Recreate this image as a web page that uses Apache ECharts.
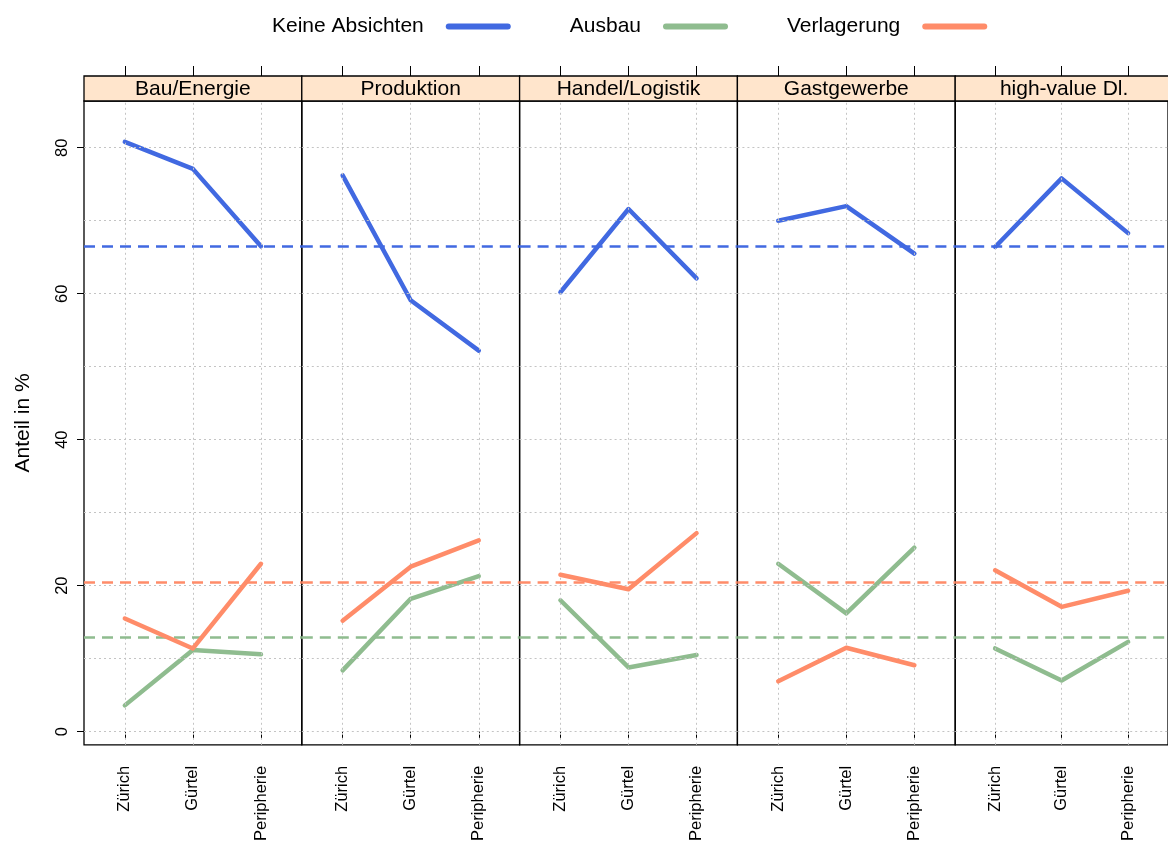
<!DOCTYPE html>
<html>
<head>
<meta charset="utf-8">
<script src="https://cdn.jsdelivr.net/npm/echarts@6/dist/echarts.min.js"></script>
<style>
  html, body { margin: 0; padding: 0; background: #fff; }
  #chart { width: 1168px; height: 844px; }
</style>
</head>
<body>
<div id="chart"></div>
<script>
// Regions on the x axis of every panel
const regions = ['Zürich', 'Gürtel', 'Peripherie'];
// One panel per sector
const sectors = ['Bau/Energie', 'Produktion', 'Handel/Logistik', 'Gastgewerbe', 'high-value Dl.'];
const seriesNames = ['Keine Absichten', 'Ausbau', 'Verlagerung'];

// Share in % per sector (rows) and region (Zürich, Gürtel, Peripherie)
const keineAbsichten = [
  [80.8, 77.1, 66.5],
  [76.2, 59.1, 52.2],
  [60.2, 71.6, 62.1],
  [70.0, 72.0, 65.5],
  [66.4, 75.8, 68.3]
];
const ausbau = [
  [3.6, 11.2, 10.6],
  [8.4, 18.2, 21.3],
  [18.0, 8.8, 10.5],
  [23.0, 16.2, 25.2],
  [11.4, 7.0, 12.3]
];
const verlagerung = [
  [15.5, 11.4, 23.0],
  [15.2, 22.6, 26.2],
  [21.5, 19.5, 27.2],
  [6.9, 11.5, 9.1],
  [22.1, 17.1, 19.3]
];
// Overall shares, drawn as dashed reference lines (same order as seriesNames)
const overallMeans = [66.5, 13.0, 20.4];

const yTickValues = [0, 20, 40, 60, 80];
const yGridValues = [0, 10, 20, 30, 40, 50, 60, 70, 80];

const colors = ['#4169E1', '#8FBC8F', '#FF8C69'];
const seriesValues = [keineAbsichten, ausbau, verlagerung];
const FONT = '"Liberation Sans", Arial, Helvetica, sans-serif';

const layout = { left: 84, top: 101, width: 217.8, height: 644.5, strip: 25 };
const xPositions = regions.map((_, k) => k + 1);

const grids = [], xAxes = [], yAxes = [], series = [], graphics = [];

sectors.forEach((sector, i) => {
  const left = layout.left + i * layout.width;
  grids.push({
    left: left, top: layout.top, width: layout.width, height: layout.height,
    show: true, borderColor: '#000', borderWidth: 1.3, backgroundColor: 'transparent'
  });

  // bottom axis with region labels
  xAxes.push({
    type: 'value', gridIndex: i, min: 0.4, max: 3.6, position: 'bottom',
    axisLine: { show: false }, splitLine: { show: false },
    axisTick: { show: true, length: 7, customValues: xPositions, lineStyle: { color: '#000', width: 1 } },
    axisLabel: {
      show: true, customValues: xPositions, rotate: 90, margin: 21,
      formatter: v => regions[Math.round(v) - 1],
      fontSize: 16.5, color: '#000', fontFamily: FONT
    }
  });
  // top ticks above the strip
  xAxes.push({
    type: 'value', gridIndex: i, min: 0.4, max: 3.6, position: 'top', offset: layout.strip,
    axisLine: { show: false }, splitLine: { show: false },
    axisTick: { show: true, length: 10, customValues: xPositions, lineStyle: { color: '#000', width: 1 } },
    axisLabel: { show: false }
  });

  yAxes.push({
    type: 'value', gridIndex: i, min: -1.8, max: 86.4, position: 'left',
    axisLine: { show: false }, splitLine: { show: false },
    axisTick: { show: i === 0, length: 7, customValues: yTickValues, lineStyle: { color: '#000', width: 1 } },
    axisLabel: {
      show: i === 0, customValues: yTickValues, rotate: 90, margin: 13,
      fontSize: 16.5, color: '#000', fontFamily: FONT
    },
    name: i === 0 ? 'Anteil in %' : '',
    nameLocation: 'middle', nameRotate: 90, nameGap: 50,
    nameTextStyle: { fontSize: 21, color: '#000', fontFamily: FONT }
  });

  // background: dotted grid and dashed overall reference lines
  const dotted = { color: '#c4c4c4', type: [2, 3], width: 1 };
  series.push({
    type: 'line', xAxisIndex: 2 * i, yAxisIndex: i, data: [], z: 1, silent: true,
    markLine: {
      silent: true, symbol: 'none', animation: false, label: { show: false },
      data: []
        .concat(yGridValues.map(v => ({ yAxis: v, lineStyle: dotted })))
        .concat(xPositions.map(v => ({ xAxis: v, lineStyle: dotted })))
        .concat(overallMeans.map((m, k) => ({
          yAxis: m, lineStyle: { color: colors[k], type: [11, 7], width: 2.5 }
        })))
    }
  });

  seriesNames.forEach((name, s) => {
    series.push({
      type: 'line', name: name, xAxisIndex: 2 * i, yAxisIndex: i, z: 3 + s,
      data: xPositions.map((x, k) => [x, seriesValues[s][i][k]]),
      symbol: 'none', silent: true,
      lineStyle: { color: colors[s], width: 4.5, cap: 'round', join: 'round' },
      itemStyle: { color: colors[s] }
    });
  });

  // strip with the sector name
  graphics.push({
    type: 'rect', z: 10,
    shape: { x: left, y: layout.top - layout.strip, width: layout.width, height: layout.strip },
    style: { fill: '#FFE5CC', stroke: '#000', lineWidth: 1.3 }
  });
  graphics.push({
    type: 'text', z: 11,
    x: left + layout.width / 2, y: layout.top - layout.strip / 2 + 0.5,
    style: {
      text: sector, align: 'center', verticalAlign: 'middle',
      fontSize: 21, fontFamily: FONT, fill: '#000'
    }
  });
});

const chart = echarts.init(document.getElementById('chart'), null, { renderer: 'canvas' });
chart.setOption({
  animation: false,
  backgroundColor: '#fff',
  legend: {
    data: seriesNames, top: 11, left: 267, align: 'right', orient: 'horizontal',
    itemWidth: 65, itemHeight: 6, itemGap: 59,
    icon: 'path://M3,0 L62,0 A3,3 0 0 1 62,6 L3,6 A3,3 0 0 1 3,0 Z',
    selectedMode: false,
    textStyle: { fontSize: 21, color: '#000', fontFamily: FONT, padding: [0, 17, 0, 0] }
  },
  grid: grids,
  xAxis: xAxes,
  yAxis: yAxes,
  series: series,
  graphic: graphics
});
</script>
</body>
</html>
